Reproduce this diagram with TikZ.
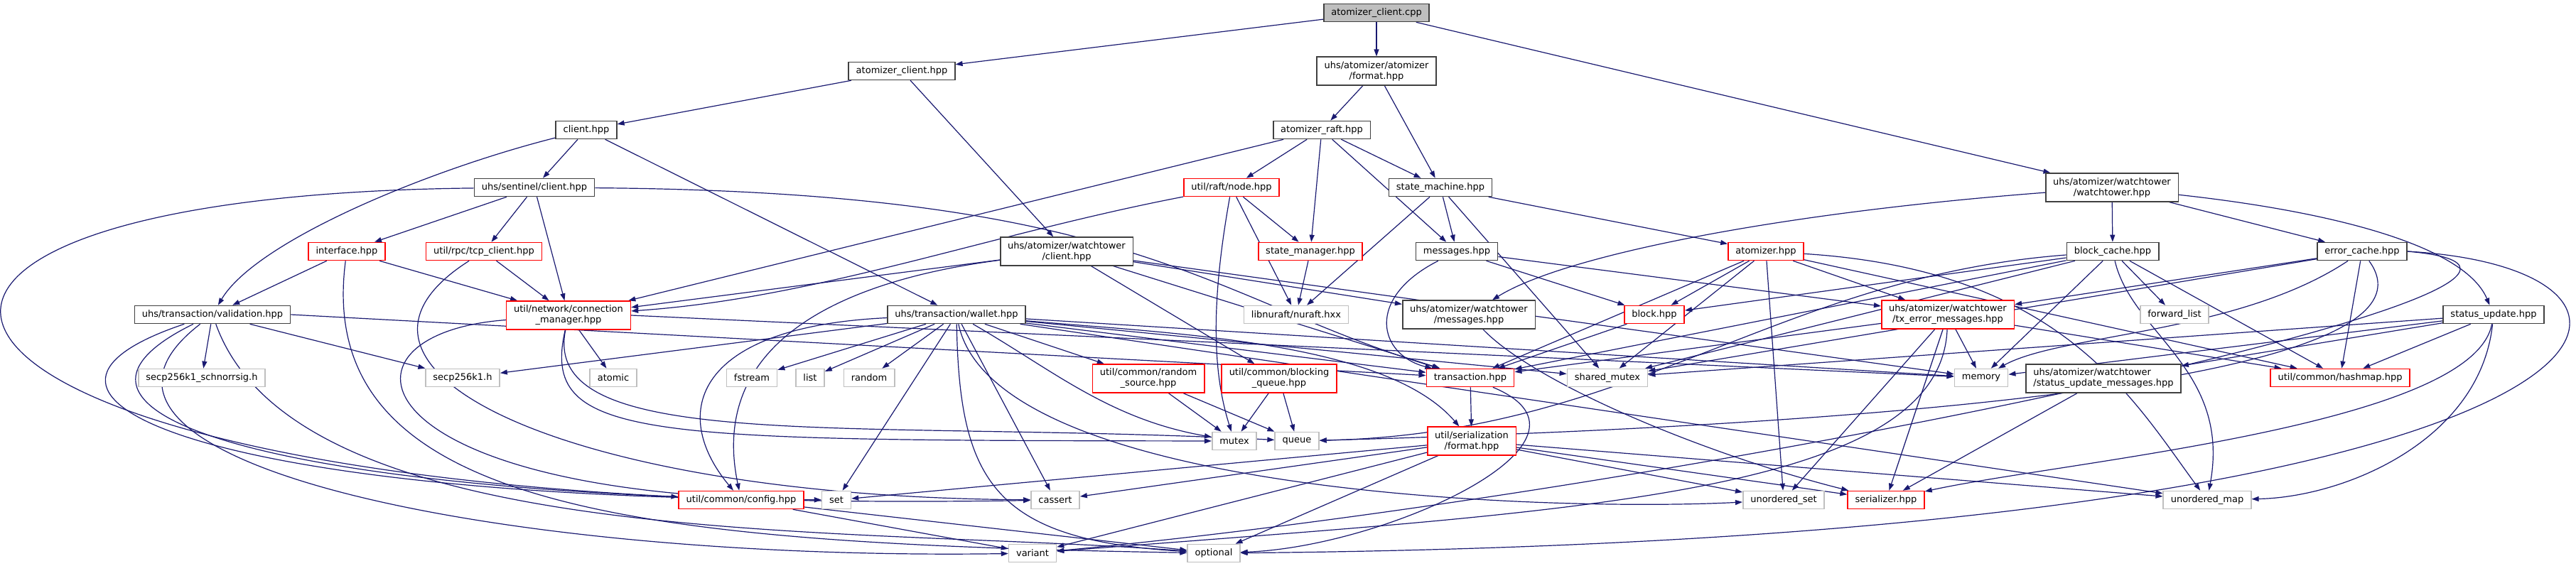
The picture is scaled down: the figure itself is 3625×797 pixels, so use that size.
\documentclass[tikz,border=0pt]{standalone}
\usepackage{fontspec}
\setmainfont{DejaVu Sans}
\usepackage{tikz}
\usetikzlibrary{arrows.meta,backgrounds}

\definecolor{depblue}{RGB}{25,25,112}
\definecolor{sysgray}{RGB}{191,191,191}

\begin{document}
\begin{tikzpicture}[x=1pt, y=-1pt,
  file/.style={draw=black!75, line width=1.6pt, fill=white, inner xsep=10.5pt, inner ysep=6pt, minimum height=25pt, align=center, font=\fontsize{13}{15}\selectfont},
  rootfile/.style={file, fill=sysgray},
  redfile/.style={file, draw=red},
  sysfile/.style={file, draw=sysgray},
  dep/.style={draw=depblue, line width=1.2pt, -{Triangle[length=10pt,width=7pt]}}]
\useasboundingbox (0,0) rectangle (3625,797);
% files
\node[rootfile] (cpp) at (1937,18) {atomizer\_client.cpp};
\node[file] (aclienth) at (1269,100) {atomizer\_client.hpp};
\node[file] (aformat) at (1937,100) {uhs/atomizer/atomizer\\/format.hpp};
\node[file] (clienth) at (825,183) {client.hpp};
\node[file] (araft) at (1860,183) {atomizer\_raft.hpp};
\node[file] (sentinel) at (752,264) {uhs/sentinel/client.hpp};
\node[redfile] (raftnode) at (1733,264) {util/raft/node.hpp};
\node[file] (smachine) at (2027,264) {state\_machine.hpp};
\node[file] (wtower) at (2972,264) {uhs/atomizer/watchtower\\/watchtower.hpp};
\node[redfile] (iface) at (488,354) {interface.hpp};
\node[redfile] (tcpclient) at (681,354) {util/rpc/tcp\_client.hpp};
\node[file] (wtclient) at (1501,354) {uhs/atomizer/watchtower\\/client.hpp};
\node[redfile] (smanager) at (1844,354) {state\_manager.hpp};
\node[file] (messages) at (2050,354) {messages.hpp};
\node[redfile] (atomizer) at (2485,354) {atomizer.hpp};
\node[file] (bcache) at (2973,354) {block\_cache.hpp};
\node[file] (ecache) at (3324,354) {error\_cache.hpp};
\node[file] (validation) at (299,443) {uhs/transaction/validation.hpp};
\node[redfile] (connmgr) at (800,444) {util/network/connection\\\_manager.hpp};
\node[file] (wallet) at (1346,443) {uhs/transaction/wallet.hpp};
\node[sysfile] (nuraft) at (1824,443) {libnuraft/nuraft.hxx};
\node[file] (wtmsgs) at (2067,443) {uhs/atomizer/watchtower\\/messages.hpp};
\node[redfile] (block) at (2328,443) {block.hpp};
\node[redfile] (txerr) at (2741,443) {uhs/atomizer/watchtower\\/tx\_error\_messages.hpp};
\node[sysfile] (flist) at (3060,443) {forward\_list};
\node[file] (supdate) at (3509,443) {status\_update.hpp};
\node[sysfile] (schnorr) at (284,532) {secp256k1\_schnorrsig.h};
\node[sysfile] (secp) at (651,532) {secp256k1.h};
\node[sysfile] (atomic) at (863,532) {atomic};
\node[sysfile] (fstream) at (1058,532) {fstream};
\node[sysfile] (list) at (1140,532) {list};
\node[sysfile] (random) at (1223,532) {random};
\node[redfile] (rsource) at (1616,533) {util/common/random\\\_source.hpp};
\node[redfile] (bqueue) at (1800,533) {util/common/blocking\\\_queue.hpp};
\node[redfile] (transaction) at (2069,532) {transaction.hpp};
\node[sysfile] (smutex) at (2262,532) {shared\_mutex};
\node[sysfile] (memory) at (2788,532) {memory};
\node[file, align=left] (sumsgs) at (2960,533) {uhs/atomizer/watchtower\\/status\_update\_messages.hpp};
\node[redfile] (hashmap) at (3293,532) {util/common/hashmap.hpp};
\node[sysfile] (mutex) at (1737,621) {mutex};
\node[sysfile] (queue) at (1825,621) {queue};
\node[redfile] (sformat) at (2071,621) {util/serialization\\/format.hpp};
\node[redfile] (config) at (1043,704) {util/common/config.hpp};
\node[sysfile] (set) at (1177,704) {set};
\node[sysfile] (cassert) at (1485,704) {cassert};
\node[sysfile] (uset) at (2510,704) {unordered\_set};
\node[redfile] (serializer) at (2654,704) {serializer.hpp};
\node[sysfile] (umap) at (3106,704) {unordered\_map};
\node[sysfile] (variant) at (1453,779) {variant};
\node[sysfile] (optional) at (1708,779) {optional};

% includes
\begin{scope}[on background layer]
\foreach \dst in {aclienth,aformat,wtower} \draw[dep] (cpp) -- (\dst);
\foreach \dst in {clienth,wtclient} \draw[dep] (aclienth) -- (\dst);
\foreach \dst in {araft,smachine} \draw[dep] (aformat) -- (\dst);
\foreach \dst in {sentinel,wallet} \draw[dep] (clienth) -- (\dst);
\draw[dep] (clienth) .. controls (600,240) and (360,340) .. (validation);
\foreach \dst in {raftnode,connmgr,smanager,messages,smachine} \draw[dep] (araft) -- (\dst);
\foreach \dst in {bcache,ecache} \draw[dep] (wtower) -- (\dst);
\draw[dep] (wtower) .. controls (3300,300) and (3470,350) .. (supdate);
\draw[dep] (wtower) .. controls (2500,300) and (2200,360) .. (wtmsgs);
% sentinel and friends
\foreach \dst in {iface,tcpclient,connmgr} \draw[dep] (sentinel) -- (\dst);
\draw[dep] (sentinel) .. controls (-300,275) and (-220,640) .. (config);
\draw[dep] (sentinel) .. controls (1600,270) and (1700,420) .. (transaction);
\foreach \dst in {validation,connmgr} \draw[dep] (iface) -- (\dst);
\draw[dep] (iface) .. controls (440,720) and (900,765) .. (optional);
\draw[dep] (tcpclient) -- (connmgr);
\draw[dep] (tcpclient) .. controls (420,520) and (800,700) .. (cassert);
% raft side
\foreach \dst in {smanager,nuraft} \draw[dep] (raftnode) -- (\dst);
\draw[dep] (raftnode) .. controls (1705,420) and (1705,520) .. (mutex);
\draw[dep] (raftnode) .. controls (1390,330) and (1150,420) .. (connmgr);
\foreach \dst in {messages,atomizer,nuraft,smutex} \draw[dep] (smachine) -- (\dst);
\draw[dep] (smanager) -- (nuraft);
% watchtower client
\foreach \dst in {connmgr,wtmsgs,bqueue,transaction,memory} \draw[dep] (wtclient) -- (\dst);
\draw[dep] (wtclient) .. controls (1150,400) and (1000,500) .. (config);
% atomizer messages
\foreach \dst in {block,txerr} \draw[dep] (messages) -- (\dst);
\draw[dep] (messages) .. controls (1920,420) and (1940,500) .. (transaction);
\foreach \dst in {block,transaction,smutex,txerr,uset,hashmap} \draw[dep] (atomizer) -- (\dst);
\draw[dep] (atomizer) .. controls (2900,380) and (3000,560) .. (umap);
% caches
\foreach \dst in {block,smutex,transaction,flist,memory,hashmap} \draw[dep] (bcache) -- (\dst);
\draw[dep] (bcache) .. controls (3000,470) and (3140,520) .. (umap);
\draw[dep] (bcache) .. controls (2500,390) and (2300,610) .. (queue);
\foreach \dst in {txerr,smutex,hashmap} \draw[dep] (ecache) -- (\dst);
\draw[dep] (ecache) .. controls (3150,470) and (2900,470) .. (memory);
\draw[dep] (ecache) .. controls (3460,540) and (2600,600) .. (queue);
\draw[dep] (ecache.east) .. controls (3850,380) and (3750,760) .. (optional);
\draw[dep] (ecache.east) .. controls (3800,390) and (2400,690) .. (variant);
% status update
\foreach \dst in {sumsgs,hashmap,memory,smutex} \draw[dep] (supdate) -- (\dst);
\draw[dep] (supdate) .. controls (3490,620) and (3300,700) .. (umap);
\draw[dep] (supdate) .. controls (3480,600) and (2900,650) .. (serializer);
\draw[dep] (sumsgs) -- (serializer);
\draw[dep] (wtmsgs) .. controls (2160,540) and (2400,640) .. (serializer);
% tx error messages
\foreach \dst in {transaction,memory,serializer,uset,hashmap} \draw[dep] (txerr) -- (\dst);
\draw[dep] (txerr) .. controls (2730,700) and (2200,720) .. (variant);
\draw[dep] (block) -- (transaction);
% transaction layer
\foreach \dst in {schnorr,secp} \draw[dep] (validation) -- (\dst);
\draw[dep] (validation.east) -- (transaction);
\draw[dep] (validation) .. controls (-50,560) and (300,700) .. (set);
\draw[dep] (validation) .. controls (-20,600) and (500,720) .. (cassert);
\draw[dep] (validation) .. controls (30,650) and (700,790) .. (variant);
\draw[dep] (validation) .. controls (420,780) and (1200,740) .. (optional);
\draw[dep] (connmgr) -- (atomic);
\draw[dep] (connmgr.east) -- (memory);
\draw[dep] (connmgr) .. controls (450,470) and (500,700) .. (set);
\draw[dep] (connmgr) .. controls (760,620) and (900,620) .. (mutex);
\draw[dep] (connmgr) .. controls (760,640) and (1200,590) .. (queue);
\foreach \dst in {secp,fstream,list,random,set,rsource,cassert,transaction,smutex,memory,umap} \draw[dep] (wallet) -- (\dst);
\draw[dep] (wallet) .. controls (980,460) and (940,580) .. (config);
\draw[dep] (wallet) .. controls (1350,680) and (1400,760) .. (optional);
\draw[dep] (wallet) .. controls (1480,520) and (1560,590) .. (mutex);
\draw[dep] (wallet) .. controls (1650,470) and (1950,480) .. (sformat);
\draw[dep] (wallet) .. controls (1400,700) and (2200,720) .. (uset);
% small headers
\foreach \dst in {mutex,queue} \draw[dep] (rsource) -- (\dst);
\foreach \dst in {mutex,queue} \draw[dep] (bqueue) -- (\dst);
\foreach \dst in {variant,optional} \draw[dep] (config) -- (\dst);
\draw[dep] (transaction) -- (sformat);
\draw[dep] (transaction) .. controls (2280,620) and (1950,770) .. (optional);
\foreach \dst in {set,cassert,variant,optional,uset,serializer,umap} \draw[dep] (sformat) -- (\dst);
\end{scope}
\end{tikzpicture}
\end{document}
